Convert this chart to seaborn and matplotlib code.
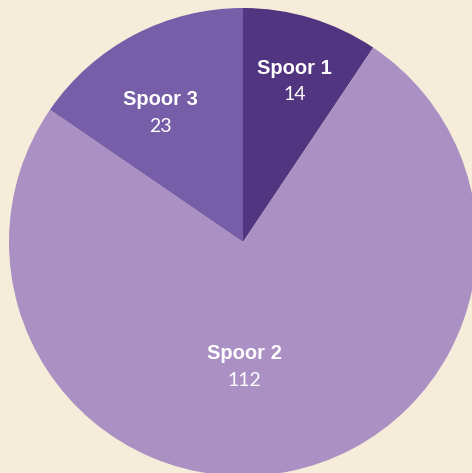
import matplotlib
matplotlib.use("Agg")
import matplotlib.pyplot as plt
import seaborn as sns
import numpy as np

labels = ["Spoor 1", "Spoor 2", "Spoor 3"]
values = [14, 112, 23]
colors = ["#523580", "#AA90C3", "#765EA8"]

sns.set_theme(style="white")
plt.rcParams["font.family"] = ["Liberation Sans", "DejaVu Sans"]

bg = "#F5ECDA"
W, H = 472, 473
fig = plt.figure(figsize=(4.72, 4.73), dpi=100, facecolor=bg)
ax = fig.add_axes([0, 0, 1, 1])
ax.set_facecolor(bg)

cx, cy, r = 243, H - 242, 234
ax.pie(values, colors=colors, startangle=90, counterclock=False,
       center=(cx, cy), radius=r, frame=True,
       wedgeprops=dict(linewidth=0))
ax.set_xlim(0, W)
ax.set_ylim(0, H)
ax.set_aspect("equal")
ax.axis("off")

# label anchor (pixel coords of label centre x and baseline y, from top)
label_pos = {"Spoor 1": (294.5, 74), "Spoor 2": (244.5, 359), "Spoor 3": (160, 105)}
for lab, val in zip(labels, values):
    x, y = label_pos[lab]
    ax.text(x, H - y, lab, ha="center", va="baseline", color="white",
            fontsize=14.5, fontweight="bold")
    ax.text(x, H - y - 26.5, str(val), ha="center", va="baseline", color="white",
            fontsize=14, fontweight="normal", family=["Lato", "DejaVu Sans"])

fig.savefig("out.png", dpi=100, facecolor=bg)
